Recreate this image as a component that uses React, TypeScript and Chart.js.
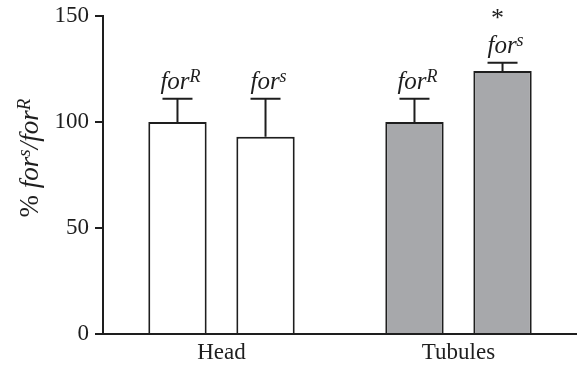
import React, { useEffect, useRef } from "react";
import { Chart, registerables } from "chart.js";

Chart.register(...registerables);

// Expression of the "for" alleles, relative to forR (%), in two tissues
const categories = ["Head", "Tubules"];
const forRValues = [100, 100];
const forRErrors = [11, 11];
const forsValues = [93, 124];
const forsErrors = [18, 4];
const forRMarks = ["", ""];
const forsMarks = ["", "*"];
const yTickValues = [0, 50, 100, 150];
const seriesBase = "for";
const seriesSuperscripts = ["R", "s"];
const categoryFills = ["#ffffff", "#a7a8ab"];

const SERIF = '"Liberation Serif", "Times New Roman", Times, serif';
const INK = "#1e1e1e";

type Run = { text: string; font: string; rise: number };

function drawRuns(ctx: CanvasRenderingContext2D, runs: Run[], cx: number, baseline: number) {
  let total = 0;
  const widths = runs.map((r) => {
    ctx.font = r.font;
    const w = ctx.measureText(r.text).width;
    total += w;
    return w;
  });
  let x = cx - total / 2;
  ctx.textAlign = "left";
  ctx.textBaseline = "alphabetic";
  runs.forEach((r, i) => {
    ctx.font = r.font;
    ctx.fillText(r.text, x, baseline - r.rise);
    x += widths[i];
  });
}

function alleleRuns(sup: string, size: number, supSize: number, rise: number): Run[] {
  return [
    { text: seriesBase, font: `italic ${size}px ${SERIF}`, rise: 0 },
    { text: sup, font: `italic ${supSize}px ${SERIF}`, rise },
  ];
}

const annotations = {
  id: "errorBarsAndLabels",
  afterDatasetsDraw(chart: any) {
    const ctx: CanvasRenderingContext2D = chart.ctx;
    const yScale = chart.scales.y;
    const values = [forRValues, forsValues];
    const errors = [forRErrors, forsErrors];
    const marks = [forRMarks, forsMarks];
    ctx.save();
    ctx.strokeStyle = INK;
    ctx.fillStyle = INK;
    ctx.lineWidth = 2;
    chart.data.datasets.forEach((_: any, i: number) => {
      const meta = chart.getDatasetMeta(i);
      meta.data.forEach((bar: any, j: number) => {
        const x = bar.x;
        const top = yScale.getPixelForValue(values[i][j] + errors[i][j]);
        ctx.beginPath();
        ctx.moveTo(x, bar.y);
        ctx.lineTo(x, top);
        ctx.moveTo(x - 15, top);
        ctx.lineTo(x + 15, top);
        ctx.stroke();

        const baseline = top - 10;
        drawRuns(ctx, alleleRuns(seriesSuperscripts[i], 25, 18, 7), x + 3, baseline);
        if (marks[i][j]) {
          ctx.font = `26px ${SERIF}`;
          ctx.textAlign = "center";
          ctx.fillText(marks[i][j], x - 5, baseline - 27);
        }
      });
    });

    // rotated y-axis title: % for^s/for^R
    ctx.translate(38, 158);
    ctx.rotate(-Math.PI / 2);
    const t = 27;
    const s = 19;
    drawRuns(
      ctx,
      [
        { text: "% ", font: `${t}px ${SERIF}`, rise: 0 },
        { text: seriesBase, font: `italic ${t}px ${SERIF}`, rise: 0 },
        { text: seriesSuperscripts[1], font: `italic ${s}px ${SERIF}`, rise: 8 },
        { text: "/", font: `italic ${t}px ${SERIF}`, rise: 0 },
        { text: seriesBase, font: `italic ${t}px ${SERIF}`, rise: 0 },
        { text: seriesSuperscripts[0], font: `italic ${s}px ${SERIF}`, rise: 8 },
      ],
      0,
      0
    );
    ctx.restore();
  },
};

export default function App() {
  const canvasRef = useRef<HTMLCanvasElement | null>(null);

  useEffect(() => {
    document.body.style.margin = "0";
    const canvas = canvasRef.current;
    if (!canvas) return;
    const chart = new Chart(canvas, {
      type: "bar",
      data: {
        labels: categories,
        datasets: [
          {
            label: seriesBase + seriesSuperscripts[0],
            data: forRValues,
            backgroundColor: categoryFills,
            borderColor: INK,
            borderWidth: 2,
            categoryPercentage: 0.743,
            barPercentage: 0.663,
          },
          {
            label: seriesBase + seriesSuperscripts[1],
            data: forsValues,
            backgroundColor: categoryFills,
            borderColor: INK,
            borderWidth: 2,
            categoryPercentage: 0.743,
            barPercentage: 0.663,
          },
        ],
      },
      options: {
        responsive: false,
        animation: false,
        devicePixelRatio: 1,
        layout: { padding: { top: 16, right: -5, left: 0, bottom: 0 } },
        plugins: {
          legend: { display: false },
          tooltip: { enabled: false },
        },
        scales: {
          x: {
            grid: { display: false, drawTicks: false },
            border: { display: true, color: INK, width: 2 },
            ticks: {
              color: INK,
              font: { family: SERIF, size: 23 },
              padding: 5,
            },
            afterFit: (scale: any) => {
              scale.height = 38;
              scale.paddingLeft = 0;
              scale.paddingRight = 0;
            },
          },
          y: {
            min: 0,
            max: 150,
            afterBuildTicks: (scale: any) => {
              scale.ticks = yTickValues.map((v) => ({ value: v }));
            },
            grid: {
              drawOnChartArea: false,
              drawTicks: true,
              tickLength: 8,
              color: INK,
              lineWidth: 2,
            },
            border: { display: true, color: INK, width: 2 },
            ticks: {
              color: INK,
              font: { family: SERIF, size: 23 },
              padding: 6,
            },
            afterFit: (scale: any) => {
              scale.width = 103;
              scale.paddingTop = 0;
              scale.paddingBottom = 0;
            },
          },
        },
      },
      plugins: [annotations],
    });
    return () => chart.destroy();
  }, []);

  return (
    <canvas
      ref={canvasRef}
      width={577}
      height={372}
      style={{ position: "absolute", left: 0, top: 0, display: "block" }}
    />
  );
}
